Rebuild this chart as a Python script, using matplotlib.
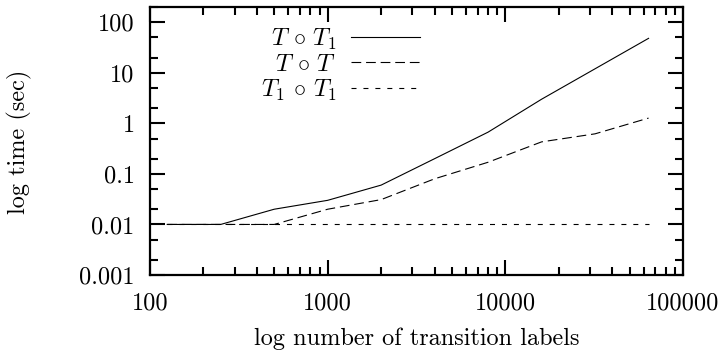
import matplotlib
matplotlib.use("Agg")
import matplotlib.pyplot as plt
from matplotlib.ticker import FixedLocator, NullFormatter

plt.rcParams["font.family"] = ["cmr10", "DejaVu Serif"]
plt.rcParams["mathtext.fontset"] = "cm"
plt.rcParams["lines.scale_dashes"] = False
plt.rcParams["axes.unicode_minus"] = False

# Number of transition labels in the input transducers
labels_n = [125, 250, 500, 1000, 2000, 4000, 8000, 16000, 32000, 64000]

# Composition run times in seconds
t_T_T1 = [0.01, 0.01, 0.02, 0.03, 0.06, 0.2, 0.67, 3.0, 12.0, 48.0]
t_T_T = [0.01, 0.01, 0.01, 0.02, 0.031, 0.08, 0.17, 0.43, 0.62, 1.27]
t_T1_T1 = [0.01, 0.01, 0.01, 0.01, 0.01, 0.01, 0.01, 0.01, 0.01, 0.01]

series_names = [r"$T\,\circ\,T_1$", r"$T\,\circ\,T$", r"$T_1\,\circ\,T_1$"]

x_ticks = [100, 1000, 10000, 100000]
x_tick_labels = ["100", "1000", "10000", "100000"]
y_ticks = [0.001, 0.01, 0.1, 1, 10, 100]
y_tick_labels = ["0.001", "0.01", "0.1", "1", "10", "100"]

FS = 17.5

fig = plt.figure(figsize=(7.23, 3.53), dpi=100)
ax = fig.add_axes([150 / 723, 78 / 353, 533 / 723, 268 / 353])

lw = 0.8
ax.plot(labels_n, t_T_T1, color="black", lw=lw, linestyle="-", label=series_names[0])
ax.plot(labels_n, t_T_T, color="black", lw=lw, linestyle=(0, (7.0, 3.5)), label=series_names[1])
ax.plot(labels_n, t_T1_T1, color="black", lw=lw, linestyle=(0, (3.6, 5.0)), label=series_names[2])

ax.set_xscale("log")
ax.set_yscale("log")
ax.set_xlim(100, 100000)
ax.set_ylim(0.001, 200)

ax.xaxis.set_major_locator(FixedLocator(x_ticks))
ax.set_xticklabels(x_tick_labels)
x_minor = [m * 10 ** e for e in range(2, 5) for m in range(2, 10)]
ax.xaxis.set_minor_locator(FixedLocator(x_minor))
ax.xaxis.set_minor_formatter(NullFormatter())

ax.yaxis.set_major_locator(FixedLocator(y_ticks))
ax.set_yticklabels(y_tick_labels)
y_minor = [m * 10.0 ** e for e in range(-3, 3) for m in (2, 5)]
ax.yaxis.set_minor_locator(FixedLocator(y_minor))
ax.yaxis.set_minor_formatter(NullFormatter())

ax.tick_params(which="both", direction="in", top=True, right=True, width=1.5, color="black")
ax.tick_params(which="major", length=11)
ax.tick_params(which="minor", length=5.5)
ax.tick_params(axis="x", which="major", pad=12.5, labelsize=FS)
ax.tick_params(axis="y", which="major", pad=11, labelsize=FS)

for sp in ax.spines.values():
    sp.set_linewidth(1.6)

fig.text(416.5 / 723, 1 - 339 / 353, "log number of transition labels",
         ha="center", va="center", fontsize=FS)
fig.text(19 / 723, 1 - 142 / 353, "log time (sec)", rotation=90,
         ha="center", va="center", fontsize=FS)

leg = ax.legend(loc="upper right", bbox_to_anchor=((420 - 150) / 533, (275 - 27) / 268),
                markerfirst=False, frameon=False, fontsize=FS, handlelength=2.85,
                handletextpad=0.6, borderpad=0, borderaxespad=0, labelspacing=0.07)

fig.savefig("out.png", dpi=100)
